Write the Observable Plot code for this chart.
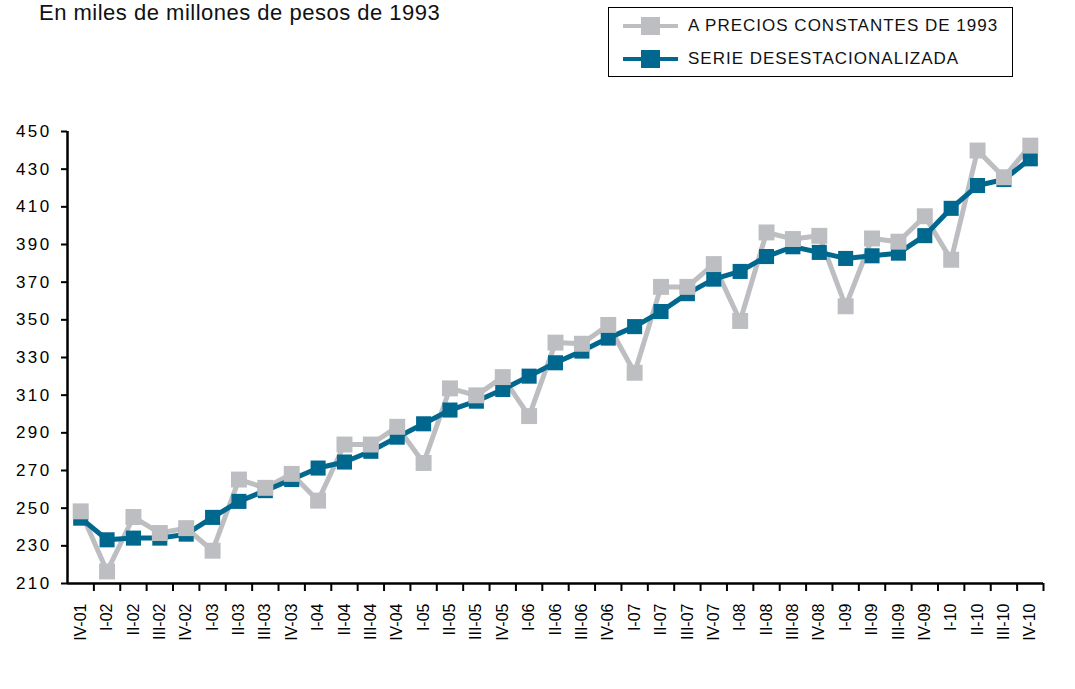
<!DOCTYPE html>
<html>
<head>
<meta charset="utf-8">
<script src="https://cdn.jsdelivr.net/npm/d3@7"></script>
<script src="https://cdn.jsdelivr.net/npm/@observablehq/plot@0.6"></script>
<style>
  html, body { margin: 0; padding: 0; background: #fff; }
  #wrap { position: relative; width: 1075px; height: 689px; overflow: hidden; font-family: "Liberation Sans", Arial, sans-serif; }
  #title { position: absolute; left: 39px; top: 0px; font-size: 22px; line-height: 26px; letter-spacing: 0.5px; color: #111; white-space: nowrap; }
  #legend { position: absolute; left: 608px; top: 7px; width: 403px; height: 68px; border: 1px solid #000; box-sizing: content-box; }
  .row { position: absolute; left: 0; height: 24px; display: flex; align-items: center; }
  .row svg { margin-left: 14px; }
  .row span { margin-left: 10px; font-size: 17px; letter-spacing: 1px; color: #111; white-space: nowrap; }
  #chart { position: absolute; left: 0; top: 0; }
  #chart g[aria-label="y-axis tick label"] text { letter-spacing: 2.4px; }
</style>
</head>
<body>
<div id="wrap">
  <div id="title">En miles de millones de pesos de 1993</div>
  <div id="legend"></div>
  <div id="chart"></div>
</div>
<script>
const categories = ["IV-01","I-02","II-02","III-02","IV-02","I-03","II-03","III-03","IV-03","I-04","II-04","III-04","IV-04","I-05","II-05","III-05","IV-05","I-06","II-06","III-06","IV-06","I-07","II-07","III-07","IV-07","I-08","II-08","III-08","IV-08","I-09","II-09","III-09","IV-09","I-10","II-10","III-10","IV-10"];
const constantes = [248.3, 216.4, 245.3, 236.8, 239.4, 227.4, 265.2, 260.8, 268.2, 254, 283.8, 283.8, 293.2, 274, 313.6, 309.9, 319.6, 298.9, 337.9, 337.3, 347.3, 321.9, 367.5, 367.5, 379.6, 349.4, 396.4, 392.9, 394.6, 357.2, 393.2, 391.5, 405, 381.9, 439.9, 425.7, 442.5];
const desestacionalizada = [244.7, 233.2, 234.1, 234.1, 236.2, 245.1, 253.6, 259.3, 265.2, 271.3, 274.5, 280.2, 287.7, 294.8, 302.1, 306.8, 313, 320.1, 327.2, 333.4, 340.3, 346.4, 354.4, 363.9, 371.6, 375.7, 383.6, 388.8, 385.8, 382.6, 384, 385.4, 394.7, 409.2, 421.3, 424.5, 435.5];
const yTicks = [210, 230, 250, 270, 290, 310, 330, 350, 370, 390, 410, 430, 450];
const seriesNames = ["A PRECIOS CONSTANTES DE 1993", "SERIE DESESTACIONALIZADA"];

const GRAY = "#bdbec1";
const BLUE = "#00688f";

const data = categories.map((c, i) => ({ i, c, a: constantes[i], b: desestacionalizada[i] }));
const boundaries = d3.range(categories.length).map(i => i + 0.5);

const chart = Plot.plot({
  width: 1075,
  height: 689,
  marginTop: 131,
  marginBottom: 106,
  marginLeft: 67,
  marginRight: 32,
  style: { fontFamily: "Liberation Sans, Arial, sans-serif", fontSize: "16px", color: "#000", background: "transparent" },
  x: { type: "linear", domain: [-0.5, categories.length - 0.5] },
  y: { domain: [210, 450] },
  marks: [
    Plot.axisY({ ticks: yTicks, tickSize: 6, tickPadding: 10, label: null, fontSize: 17, strokeWidth: 2 }),
    Plot.axisX({ ticks: boundaries, tickSize: 8, tickFormat: () => "", label: null, strokeWidth: 2 }),
    Plot.axisX({ ticks: d3.range(categories.length), tickSize: 0, tickPadding: 20, tickRotate: -90,
      tickFormat: i => categories[i], label: null, fontSize: 16 }),
    Plot.ruleX([-0.5], { stroke: "#000", strokeWidth: 2.5 }),
    Plot.ruleY([210], { stroke: "#000", strokeWidth: 2.5 }),
    Plot.line(data, { x: "i", y: "a", stroke: GRAY, strokeWidth: 5, strokeLinejoin: "round" }),
    Plot.line(data, { x: "i", y: "b", stroke: BLUE, strokeWidth: 5, strokeLinejoin: "round" }),
    Plot.dot(data, { x: "i", y: "b", symbol: "square", r: 8.5, fill: BLUE, stroke: null }),
    Plot.dot(data, { x: "i", y: "a", symbol: "square", r: 9, fill: GRAY, stroke: null })
  ]
});
document.getElementById("chart").appendChild(chart);

// legend
const legend = document.getElementById("legend");
[[GRAY, seriesNames[0], 6], [BLUE, seriesNames[1], 39]].forEach(([col, name, top]) => {
  const row = document.createElement("div");
  row.className = "row";
  row.style.top = top + "px";
  row.innerHTML = `<svg width="55" height="24"><line x1="0" x2="55" y1="12" y2="12" stroke="${col}" stroke-width="4"/><rect x="18" y="3" width="19" height="18" fill="${col}"/></svg><span>${name}</span>`;
  legend.appendChild(row);
});
</script>
</body>
</html>
